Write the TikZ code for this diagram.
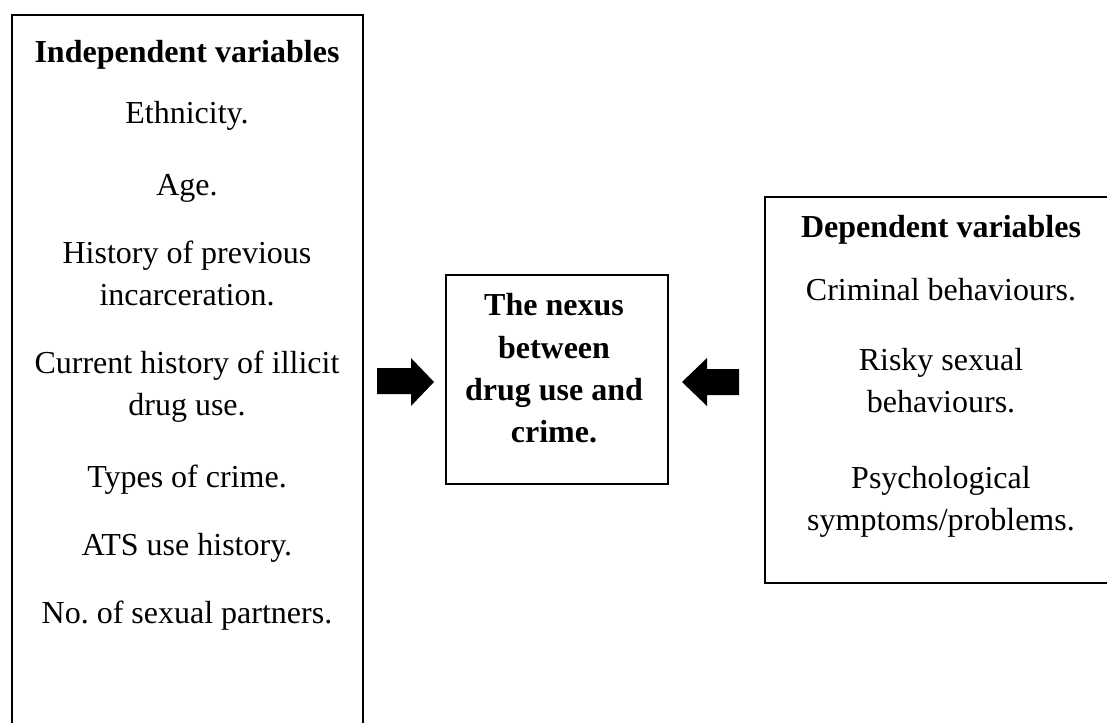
\documentclass[tikz,border=0pt]{standalone}
\usepackage{fontspec}
\setmainfont{Liberation Serif}
\frenchspacing
\begin{document}
\begin{tikzpicture}[x=1pt,y=-1pt,
  frame/.style={draw=black,line width=2pt},
  txt/.style={anchor=base,inner sep=0pt,font=\fontsize{32}{42}\selectfont},
  head/.style={txt,font=\fontsize{32}{42}\selectfont\bfseries},
  blockarrow/.style={fill=black,draw=none}]
\useasboundingbox (0,0) rectangle (1107,722);
\clip (0,0) rectangle (1107,722);
% boxes
\node[frame,anchor=north west,minimum width=351pt,minimum height=760pt,inner sep=0pt] (indep) at (11,14) {};
\node[frame,anchor=north west,minimum width=222pt,minimum height=209pt,inner sep=0pt] (nexus) at (445,274) {};
\node[frame,anchor=north west,minimum width=354pt,minimum height=386pt,inner sep=0pt] (dep) at (764,196) {};
% left column
\node[head] (ih) at (187,63) {Independent variables};
\node[txt] (i1) at (187,124) {Ethnicity.};
\node[txt] (i2) at (187,195) {Age.};
\node[txt] (i3a) at (187,263) {History of previous};
\node[txt] (i3b) at (187,305) {incarceration.};
\node[txt] (i4a) at (187,373) {Current history of illicit};
\node[txt] (i4b) at (187,415) {drug use.};
\node[txt] (i5) at (187,487) {Types of crime.};
\node[txt] (i6) at (187,555) {ATS use history.};
\node[txt] (i7) at (187,623) {No. of sexual partners.};
% middle
\node[head] (m1) at (554,315) {The nexus};
\node[head] (m2) at (554,358) {between};
\node[head] (m3) at (554,400) {drug use and};
\node[head] (m4) at (554,442) {crime.};
% right column
\node[head] (dh) at (941,237) {Dependent variables};
\node[txt] (d1) at (941,300) {Criminal behaviours.};
\node[txt] (d2a) at (941,370) {Risky sexual};
\node[txt] (d2b) at (941,412) {behaviours.};
\node[txt] (d3a) at (941,488) {Psychological};
\node[txt] (d3b) at (941,530) {symptoms/problems.};
% block arrows
\fill[blockarrow] (377,368) -- (411,368) -- (411,358) -- (434,382) -- (411,406) -- (411,394) -- (377,394) -- cycle;
\fill[blockarrow] (739,369) -- (707,369) -- (707,358) -- (682,382) -- (707,406) -- (707,395) -- (739,395) -- cycle;
\end{tikzpicture}
\end{document}
